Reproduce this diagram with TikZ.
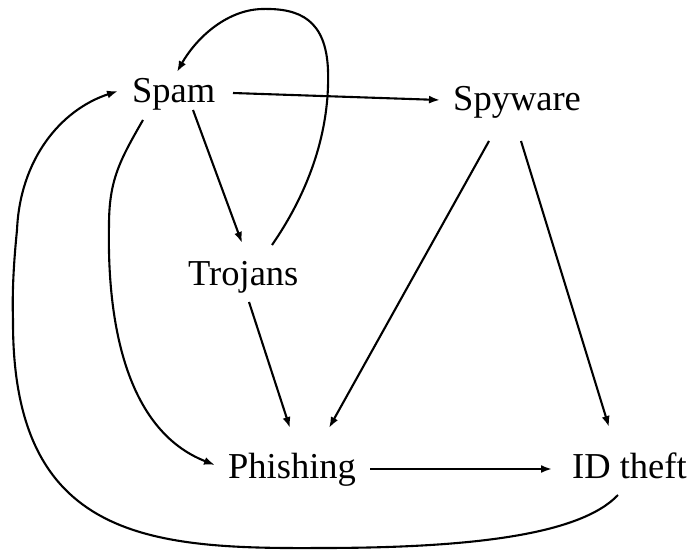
\documentclass[tikz,border=0pt]{standalone}
\usepackage{fontspec}
\setmainfont{Liberation Serif}
\usetikzlibrary{arrows.meta,calc}
\begin{document}
\begin{tikzpicture}[x=1pt,y=-1pt,
  term/.style={anchor=base west, inner sep=0pt, font=\fontsize{36.5}{44}\selectfont},
  link/.style={line width=2.1pt, -{Latex[length=11pt,width=8pt]}}]
\useasboundingbox (0,0) rectangle (693,551);

% terms
\node[term] (spam)  at (132,102) {Spam};
\node[term] (spy)   at (453,110) {Spyware};
\node[term] (troj)  at (188,285) {Trojans};
\node[term] (phish) at (228,478) {Phishing};
\node[term] (idt)   at (572,478) {ID theft};

% straight links
\draw[link] ($(spam.base west)+(101,-9)$) -- ($(spy.base west)+(-13,-10)$);
\draw[link] ($(spam.base west)+(61,8)$) -- ($(troj.base west)+(54,-42)$);
\draw[link] ($(troj.base west)+(61,17)$) -- ($(phish.base west)+(62,-50)$);
\draw[link] ($(spy.base west)+(36,31)$) -- ($(phish.base west)+(101,-50)$);
\draw[link] ($(spy.base west)+(68,31)$) -- ($(idt.base west)+(37,-51)$);
\draw[link] ($(phish.base west)+(142,-9)$) -- ($(idt.base west)+(-20,-9)$);

% Spam -> Phishing, down the inner left side
\draw[link] ($(spam.base west)+(11,18)$)
  .. controls (120,160) and (109,180) .. (109,225)
  .. controls (107,320) and (125,430) .. ($(phish.base west)+(-13,-13)$);

% Trojans -> Spam, loop over the top
\draw[link] ($(troj.base west)+(84,-40)$)
  .. controls (310,190) and (330,130) .. (328,70)
  .. controls (326,20) and (300,8) .. (262,9)
  .. controls (225,10) and (195,40) .. ($(spam.base west)+(45,-30)$);

% ID theft -> Spam, round the bottom and the outer left side
\draw[link] ($(idt.base west)+(46,17)$)
  .. controls (580,535) and (470,548) .. (320,548)
  .. controls (150,549) and (12,540) .. (13,320)
  .. controls (12,290) and (14,260) .. (17,230)
  .. controls (20,160) and (60,110) .. ($(spam.base west)+(-14,-11)$);
\end{tikzpicture}
\end{document}
